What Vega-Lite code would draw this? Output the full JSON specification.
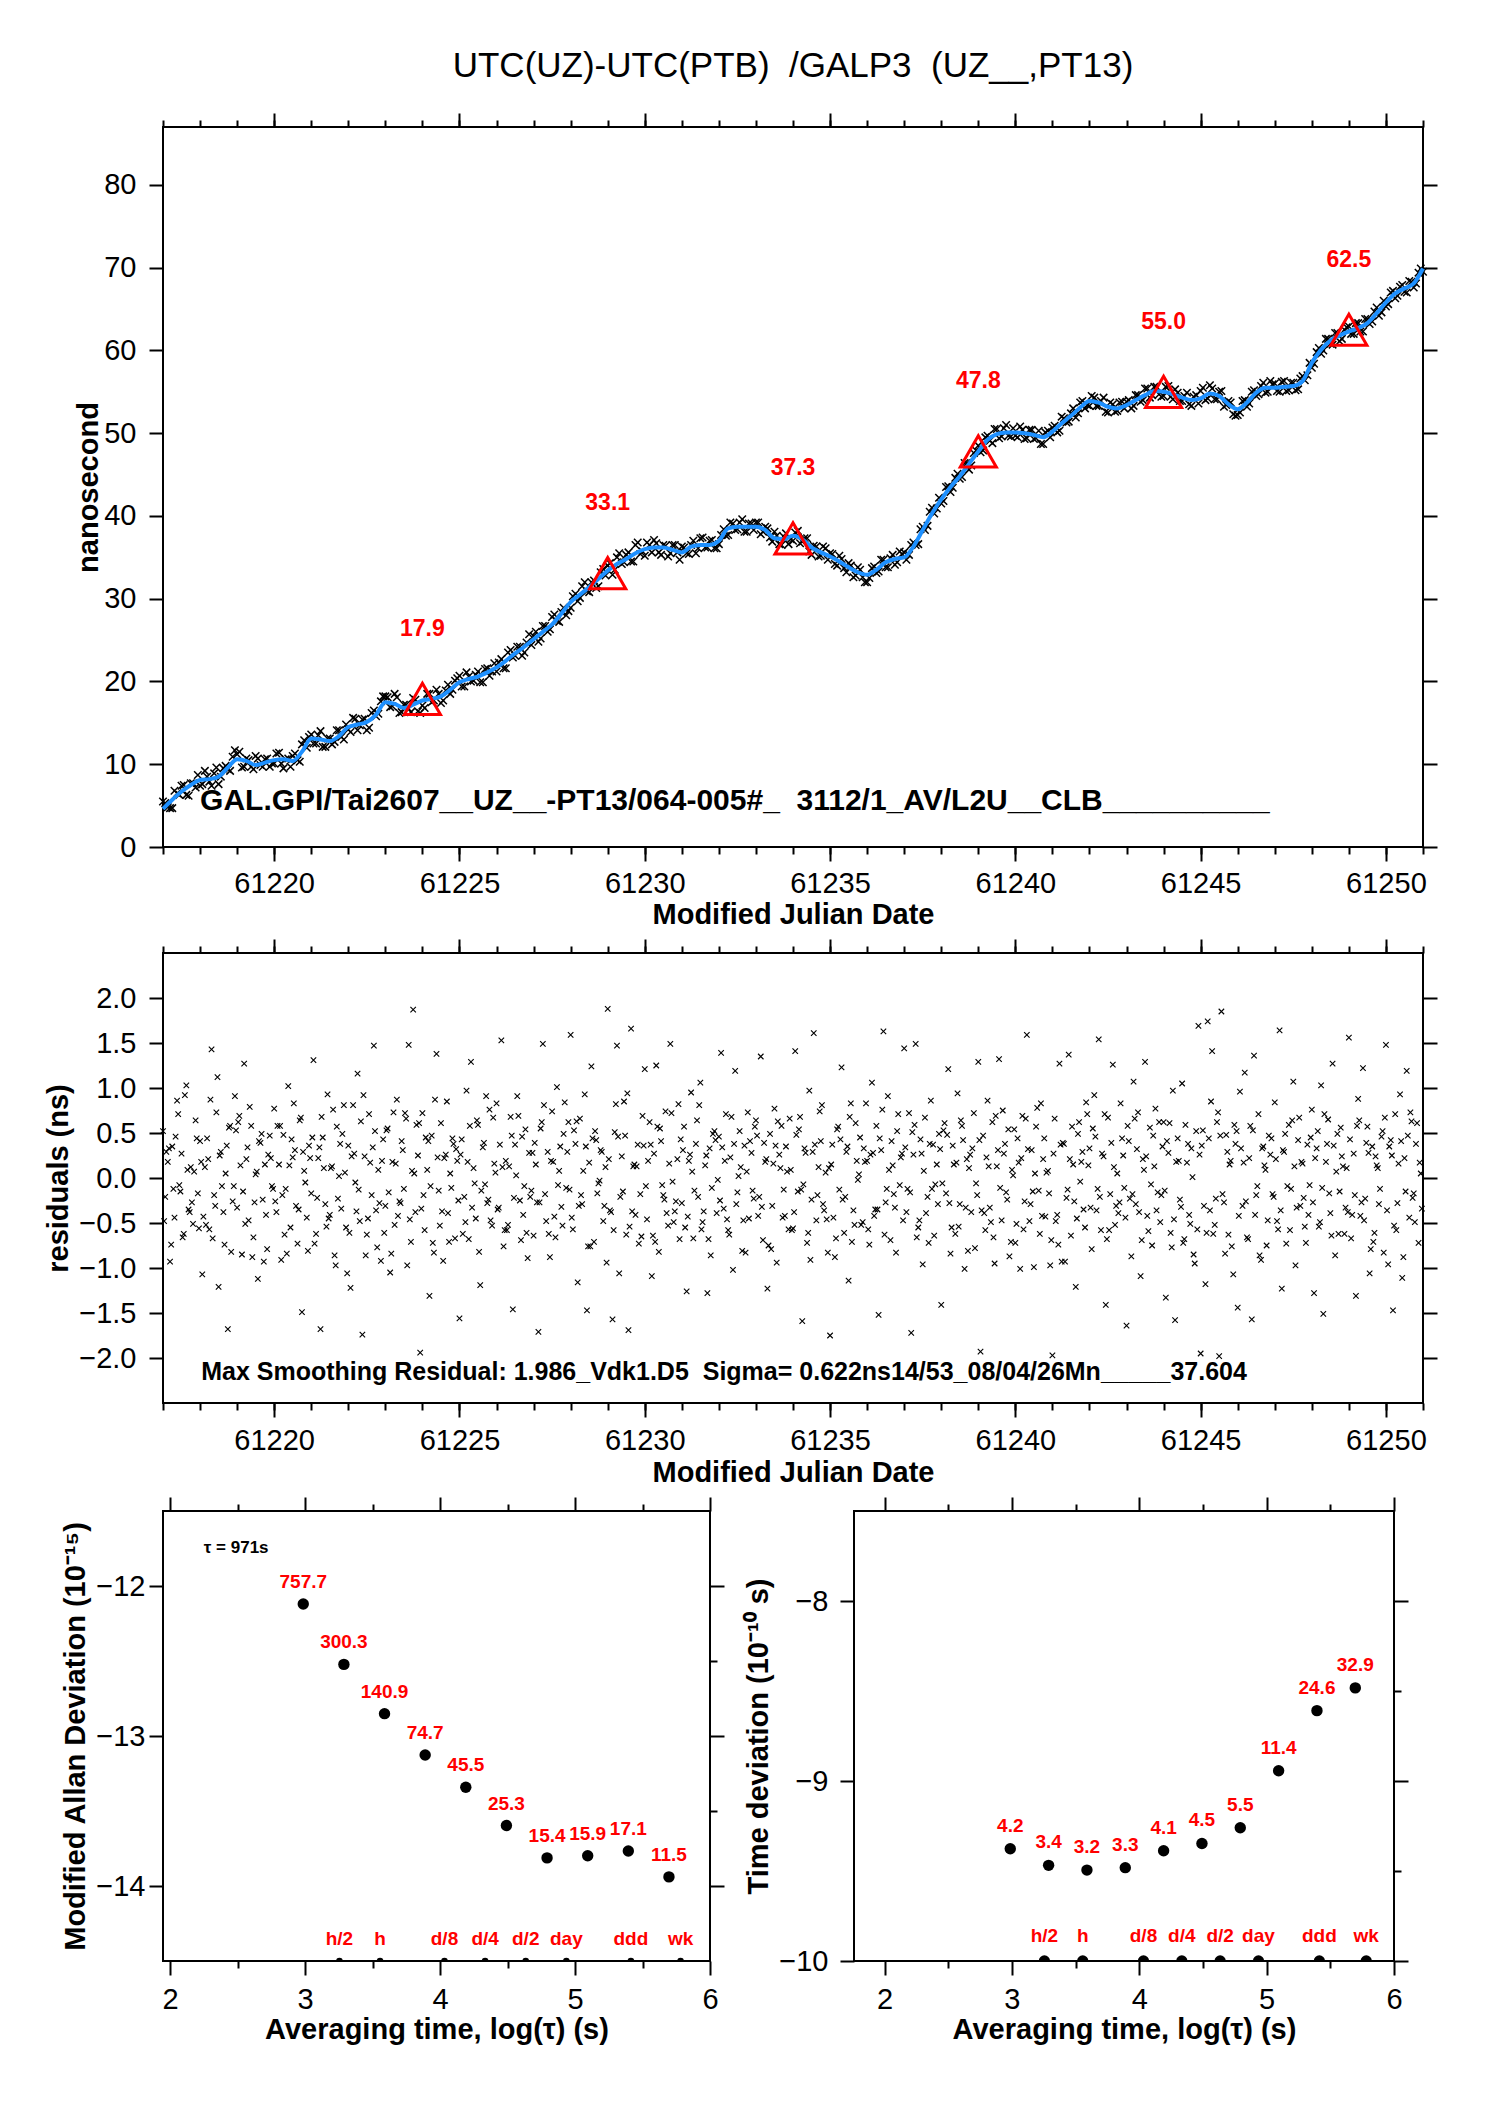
{
  "$schema": "https://vega.github.io/schema/vega-lite/v6.json",
  "description": "UTC(UZ)-UTC(PTB) GALP3 comparison: raw data with smoothing, residuals, MDEV and TDEV",
  "background": "white",
  "padding": {"left": 32, "top": 48, "right": 10, "bottom": 10},
  "spacing": 7,
  "config": {
    "font": "Liberation Sans",
    "view": {"stroke": "black", "strokeWidth": 2},
    "axis": {
      "grid": false, "domain": false,
      "tickColor": "black", "tickWidth": 2,
      "labelFont": "Liberation Sans", "labelFontSize": 29, "labelColor": "black",
      "labelFlush": false, "labelOverlap": false,
      "titleFont": "Liberation Sans", "titleFontSize": 29, "titleFontWeight": "bold", "titleColor": "black"
    },
    "text": {"font": "Liberation Sans"}
  },
  "datasets": {
    "curve": [
      {"t":61217,"v":4.6},{"t":61217.25,"v":5.7},{"t":61217.5,"v":6.7},{"t":61217.75,"v":7.5},
      {"t":61218,"v":8.1},{"t":61218.25,"v":8.2},{"t":61218.5,"v":8.5},{"t":61218.75,"v":9.6},
      {"t":61219,"v":10.6},{"t":61219.25,"v":10.4},{"t":61219.5,"v":9.9},{"t":61219.75,"v":10.2},
      {"t":61220,"v":10.5},{"t":61220.25,"v":10.6},{"t":61220.5,"v":10.4},{"t":61220.75,"v":11.5},
      {"t":61221,"v":13.1},{"t":61221.25,"v":13.0},{"t":61221.5,"v":12.8},{"t":61221.75,"v":13.4},
      {"t":61222,"v":14.5},{"t":61222.25,"v":14.8},{"t":61222.5,"v":15.1},{"t":61222.75,"v":16.0},
      {"t":61223,"v":17.5},{"t":61223.25,"v":17.3},{"t":61223.5,"v":16.8},{"t":61223.75,"v":17.2},
      {"t":61224,"v":17.7},{"t":61224.25,"v":17.9},{"t":61224.5,"v":18.2},{"t":61224.75,"v":19.0},
      {"t":61225,"v":19.9},{"t":61225.25,"v":20.3},{"t":61225.5,"v":20.6},{"t":61225.75,"v":21.1},
      {"t":61226,"v":21.7},{"t":61226.25,"v":22.5},{"t":61226.5,"v":23.4},{"t":61226.75,"v":24.2},
      {"t":61227,"v":25.1},{"t":61227.25,"v":26.0},{"t":61227.5,"v":26.9},{"t":61227.75,"v":28.2},
      {"t":61228,"v":29.6},{"t":61228.25,"v":30.5},{"t":61228.5,"v":31.4},{"t":61228.75,"v":32.4},
      {"t":61229,"v":33.4},{"t":61229.25,"v":34.2},{"t":61229.5,"v":34.8},{"t":61229.75,"v":35.5},
      {"t":61230,"v":36.0},{"t":61230.25,"v":36.2},{"t":61230.5,"v":36.2},{"t":61230.75,"v":35.9},
      {"t":61231,"v":35.6},{"t":61231.25,"v":36.3},{"t":61231.5,"v":36.5},{"t":61231.75,"v":36.5},
      {"t":61232,"v":37.0},{"t":61232.25,"v":38.5},{"t":61232.5,"v":38.7},{"t":61232.75,"v":38.7},
      {"t":61233,"v":38.7},{"t":61233.25,"v":38.3},{"t":61233.5,"v":37.3},{"t":61233.75,"v":37.2},
      {"t":61234,"v":37.6},{"t":61234.25,"v":37.2},{"t":61234.5,"v":36.2},{"t":61234.75,"v":35.6},
      {"t":61235,"v":35.1},{"t":61235.25,"v":34.5},{"t":61235.5,"v":33.8},{"t":61235.75,"v":33.2},
      {"t":61236,"v":32.9},{"t":61236.25,"v":33.5},{"t":61236.5,"v":34.4},{"t":61236.75,"v":34.8},
      {"t":61237,"v":35.0},{"t":61237.25,"v":36.3},{"t":61237.5,"v":38.3},{"t":61237.75,"v":40.3},
      {"t":61238,"v":42.0},{"t":61238.25,"v":43.5},{"t":61238.5,"v":44.8},{"t":61238.75,"v":46.3},
      {"t":61239,"v":47.8},{"t":61239.25,"v":49.2},{"t":61239.5,"v":49.9},{"t":61239.75,"v":50.1},
      {"t":61240,"v":50.1},{"t":61240.25,"v":50.0},{"t":61240.5,"v":49.8},{"t":61240.75,"v":49.5},
      {"t":61241,"v":50.2},{"t":61241.25,"v":51.2},{"t":61241.5,"v":52.1},{"t":61241.75,"v":53.1},
      {"t":61242,"v":53.9},{"t":61242.25,"v":53.7},{"t":61242.5,"v":53.2},{"t":61242.75,"v":53.0},
      {"t":61243,"v":53.4},{"t":61243.25,"v":54.0},{"t":61243.5,"v":54.6},{"t":61243.75,"v":55.1},
      {"t":61244,"v":55.0},{"t":61244.25,"v":54.7},{"t":61244.5,"v":54.3},{"t":61244.75,"v":54.0},
      {"t":61245,"v":54.2},{"t":61245.25,"v":54.8},{"t":61245.5,"v":54.5},{"t":61245.75,"v":53.5},
      {"t":61246,"v":52.9},{"t":61246.25,"v":53.7},{"t":61246.5,"v":54.9},{"t":61246.75,"v":55.5},
      {"t":61247,"v":55.5},{"t":61247.25,"v":55.6},{"t":61247.5,"v":55.7},{"t":61247.75,"v":56.3},
      {"t":61248,"v":58.5},{"t":61248.25,"v":60.1},{"t":61248.5,"v":61.2},{"t":61248.75,"v":61.8},
      {"t":61249,"v":62.3},{"t":61249.25,"v":62.7},{"t":61249.5,"v":63.3},{"t":61249.75,"v":64.5},
      {"t":61250,"v":65.8},{"t":61250.25,"v":66.9},{"t":61250.5,"v":67.5},{"t":61250.75,"v":68.1},
      {"t":61251,"v":69.9}
    ],
    "raw": [
      {"t":61217.06,"v":5.3},{"t":61217.19,"v":4.7},{"t":61217.31,"v":6.8},{"t":61217.44,"v":6.3},{"t":61217.56,"v":7.5},{"t":61217.69,"v":6.2},{"t":61217.81,"v":7.7},{"t":61217.94,"v":8.7},
      {"t":61218.06,"v":7.6},{"t":61218.19,"v":8.5},{"t":61218.31,"v":7.4},{"t":61218.44,"v":9.6},{"t":61218.56,"v":8.5},{"t":61218.69,"v":9.8},{"t":61218.81,"v":9.2},{"t":61218.94,"v":11.7},
      {"t":61219.06,"v":11.5},{"t":61219.19,"v":9.7},{"t":61219.31,"v":10.5},{"t":61219.44,"v":9.4},{"t":61219.56,"v":10.7},{"t":61219.69,"v":9.7},{"t":61219.81,"v":10.7},{"t":61219.94,"v":10.1},
      {"t":61220.06,"v":11.3},{"t":61220.19,"v":10.1},{"t":61220.31,"v":10.6},{"t":61220.44,"v":9.7},{"t":61220.56,"v":11.3},{"t":61220.69,"v":10.3},{"t":61220.81,"v":12.9},{"t":61220.94,"v":13.3},
      {"t":61221.06,"v":12.5},{"t":61221.19,"v":13.5},{"t":61221.31,"v":12.1},{"t":61221.44,"v":13.1},{"t":61221.56,"v":12.4},{"t":61221.69,"v":14.1},{"t":61221.81,"v":13.3},{"t":61221.94,"v":14.8},
      {"t":61222.06,"v":13.9},{"t":61222.19,"v":15.5},{"t":61222.31,"v":14.7},{"t":61222.44,"v":15.5},{"t":61222.56,"v":14.4},{"t":61222.69,"v":16.5},{"t":61222.81,"v":16.1},{"t":61222.94,"v":18.2},
      {"t":61223.06,"v":18.1},{"t":61223.19,"v":17.0},{"t":61223.31,"v":18.1},{"t":61223.44,"v":16.3},{"t":61223.56,"v":17.2},{"t":61223.69,"v":16.3},{"t":61223.81,"v":17.8},{"t":61223.94,"v":16.2},
      {"t":61224.06,"v":16.8},{"t":61224.19,"v":18.5},{"t":61224.31,"v":17.7},{"t":61224.44,"v":18.5},{"t":61224.56,"v":17.7},{"t":61224.69,"v":19.6},{"t":61224.81,"v":19.0},{"t":61224.94,"v":20.4},
      {"t":61225.06,"v":19.4},{"t":61225.19,"v":21.1},{"t":61225.31,"v":20.0},{"t":61225.44,"v":20.8},{"t":61225.56,"v":19.9},{"t":61225.69,"v":21.5},{"t":61225.81,"v":20.7},{"t":61225.94,"v":22.2},
      {"t":61226.06,"v":22.3},{"t":61226.19,"v":21.6},{"t":61226.31,"v":23.5},{"t":61226.44,"v":22.9},{"t":61226.56,"v":24.2},{"t":61226.69,"v":23.1},{"t":61226.81,"v":24.7},{"t":61226.94,"v":24.4},
      {"t":61227.06,"v":26.0},{"t":61227.19,"v":25.2},{"t":61227.31,"v":26.7},{"t":61227.44,"v":26.3},{"t":61227.56,"v":28.1},{"t":61227.69,"v":27.2},{"t":61227.81,"v":28.9},{"t":61227.94,"v":28.5},
      {"t":61228.06,"v":30.3},{"t":61228.19,"v":29.7},{"t":61228.31,"v":31.5},{"t":61228.44,"v":30.9},{"t":61228.56,"v":32.0},{"t":61228.69,"v":31.3},{"t":61228.81,"v":33.2},{"t":61228.94,"v":32.8},
      {"t":61229.06,"v":34.3},{"t":61229.19,"v":33.5},{"t":61229.31,"v":35.5},{"t":61229.44,"v":34.4},{"t":61229.56,"v":35.6},{"t":61229.69,"v":34.5},{"t":61229.81,"v":36.8},{"t":61229.94,"v":35.7},
      {"t":61230.06,"v":36.8},{"t":61230.19,"v":35.6},{"t":61230.31,"v":36.7},{"t":61230.44,"v":35.3},{"t":61230.56,"v":36.4},{"t":61230.69,"v":35.5},{"t":61230.81,"v":36.5},{"t":61230.94,"v":34.7},
      {"t":61231.06,"v":36.2},{"t":61231.19,"v":35.4},{"t":61231.31,"v":37.0},{"t":61231.44,"v":36.1},{"t":61231.56,"v":37.4},{"t":61231.69,"v":36.2},{"t":61231.81,"v":37.1},{"t":61231.94,"v":36.1},
      {"t":61232.06,"v":37.7},{"t":61232.19,"v":37.6},{"t":61232.31,"v":39.2},{"t":61232.44,"v":38.3},{"t":61232.56,"v":39.2},{"t":61232.69,"v":38.1},{"t":61232.81,"v":39.1},{"t":61232.94,"v":38.3},
      {"t":61233.06,"v":39.2},{"t":61233.19,"v":38.1},{"t":61233.31,"v":38.5},{"t":61233.44,"v":36.9},{"t":61233.56,"v":37.6},{"t":61233.69,"v":36.5},{"t":61233.81,"v":37.9},{"t":61233.94,"v":37.2},
      {"t":61234.06,"v":38.0},{"t":61234.19,"v":36.7},{"t":61234.31,"v":37.3},{"t":61234.44,"v":35.7},{"t":61234.56,"v":36.4},{"t":61234.69,"v":35.1},{"t":61234.81,"v":36.3},{"t":61234.94,"v":34.7},
      {"t":61235.06,"v":35.4},{"t":61235.19,"v":34.0},{"t":61235.31,"v":34.8},{"t":61235.44,"v":33.2},{"t":61235.56,"v":34.0},{"t":61235.69,"v":32.8},{"t":61235.81,"v":33.5},{"t":61235.94,"v":32.0},
      {"t":61236.06,"v":32.5},{"t":61236.19,"v":33.9},{"t":61236.31,"v":33.3},{"t":61236.44,"v":34.7},{"t":61236.56,"v":33.8},{"t":61236.69,"v":35.3},{"t":61236.81,"v":34.4},{"t":61236.94,"v":35.4},
      {"t":61237.06,"v":34.7},{"t":61237.19,"v":36.5},{"t":61237.31,"v":36.5},{"t":61237.44,"v":38.4},{"t":61237.56,"v":38.3},{"t":61237.69,"v":40.5},{"t":61237.81,"v":40.3},{"t":61237.94,"v":42.2},
      {"t":61238.06,"v":41.8},{"t":61238.19,"v":43.6},{"t":61238.31,"v":43.4},{"t":61238.44,"v":45.1},{"t":61238.56,"v":44.7},{"t":61238.69,"v":46.4},{"t":61238.81,"v":46.1},{"t":61238.94,"v":47.9},
      {"t":61239.06,"v":47.7},{"t":61239.19,"v":49.5},{"t":61239.31,"v":49.1},{"t":61239.44,"v":50.5},{"t":61239.56,"v":49.4},{"t":61239.69,"v":50.6},{"t":61239.81,"v":49.7},{"t":61239.94,"v":50.6},
      {"t":61240.06,"v":49.5},{"t":61240.19,"v":50.4},{"t":61240.31,"v":49.4},{"t":61240.44,"v":50.4},{"t":61240.56,"v":49.4},{"t":61240.69,"v":48.7},{"t":61240.81,"v":50.1},{"t":61240.94,"v":49.5},
      {"t":61241.06,"v":50.9},{"t":61241.19,"v":50.3},{"t":61241.31,"v":51.8},{"t":61241.44,"v":51.4},{"t":61241.56,"v":53.0},{"t":61241.69,"v":52.4},{"t":61241.81,"v":53.9},{"t":61241.94,"v":53.4},
      {"t":61242.06,"v":54.5},{"t":61242.19,"v":53.3},{"t":61242.31,"v":53.9},{"t":61242.44,"v":52.6},{"t":61242.56,"v":53.7},{"t":61242.69,"v":52.6},{"t":61242.81,"v":53.7},{"t":61242.94,"v":53.0},
      {"t":61243.06,"v":54.0},{"t":61243.19,"v":53.3},{"t":61243.31,"v":54.6},{"t":61243.44,"v":54.0},{"t":61243.56,"v":55.4},{"t":61243.69,"v":54.6},{"t":61243.81,"v":55.6},{"t":61243.94,"v":54.4},
      {"t":61244.06,"v":55.6},{"t":61244.19,"v":54.4},{"t":61244.31,"v":55.3},{"t":61244.44,"v":53.9},{"t":61244.56,"v":54.5},{"t":61244.69,"v":53.5},{"t":61244.81,"v":54.4},{"t":61244.94,"v":53.6},
      {"t":61245.06,"v":55.5},{"t":61245.19,"v":54.2},{"t":61245.31,"v":55.4},{"t":61245.44,"v":54.1},{"t":61245.56,"v":55.1},{"t":61245.69,"v":53.4},{"t":61245.81,"v":53.7},{"t":61245.94,"v":52.1},
      {"t":61246.06,"v":52.5},{"t":61246.19,"v":54.0},{"t":61246.31,"v":53.6},{"t":61246.44,"v":55.2},{"t":61246.56,"v":54.7},{"t":61246.69,"v":56.1},{"t":61246.81,"v":55.0},{"t":61246.94,"v":55.9},
      {"t":61247.06,"v":55.1},{"t":61247.19,"v":56.2},{"t":61247.31,"v":55.1},{"t":61247.44,"v":56.1},{"t":61247.56,"v":55.2},{"t":61247.69,"v":56.6},{"t":61247.81,"v":56.4},{"t":61247.94,"v":58.5},
      {"t":61248.06,"v":58.4},{"t":61248.19,"v":60.3},{"t":61248.31,"v":60.0},{"t":61248.44,"v":61.4},{"t":61248.56,"v":60.7},{"t":61248.69,"v":62.1},{"t":61248.81,"v":61.4},{"t":61248.94,"v":62.8},
      {"t":61249.06,"v":62.0},{"t":61249.19,"v":63.3},{"t":61249.31,"v":62.3},{"t":61249.44,"v":63.8},{"t":61249.56,"v":63.2},{"t":61249.69,"v":64.7},{"t":61249.81,"v":64.2},{"t":61249.94,"v":66.0},
      {"t":61250.06,"v":65.6},{"t":61250.19,"v":67.2},{"t":61250.31,"v":66.6},{"t":61250.44,"v":67.9},{"t":61250.56,"v":67.0},{"t":61250.69,"v":68.3},{"t":61250.81,"v":68.1},{"t":61250.94,"v":69.9},
      {"t":61217,"v":5.5},{"t":61217.13,"v":4.8},{"t":61217.25,"v":4.7},{"t":61217.38,"v":6.5},{"t":61217.5,"v":7.4},{"t":61217.63,"v":6.3},{"t":61217.75,"v":7.7},{"t":61217.88,"v":7.2},
      {"t":61218,"v":7.4},{"t":61218.13,"v":9.2},{"t":61218.25,"v":7.9},{"t":61218.38,"v":8.9},{"t":61218.5,"v":7.6},{"t":61218.63,"v":9.5},{"t":61218.75,"v":9.4},{"t":61218.88,"v":10.9},
      {"t":61219,"v":11.2},{"t":61219.13,"v":9.6},{"t":61219.25,"v":10.7},{"t":61219.38,"v":9.7},{"t":61219.5,"v":11.0},{"t":61219.63,"v":9.9},{"t":61219.75,"v":10.6},{"t":61219.88,"v":9.7},
      {"t":61220,"v":10.1},{"t":61220.13,"v":11.4},{"t":61220.25,"v":9.5},{"t":61220.38,"v":10.7},{"t":61220.5,"v":11.0},{"t":61220.63,"v":10.5},{"t":61220.75,"v":12.4},{"t":61220.88,"v":12.0},
      {"t":61221,"v":13.6},{"t":61221.13,"v":12.5},{"t":61221.25,"v":14.0},{"t":61221.38,"v":12.1},{"t":61221.5,"v":13.1},{"t":61221.63,"v":12.7},{"t":61221.75,"v":14.1},{"t":61221.88,"v":13.0},
      {"t":61222,"v":14.2},{"t":61222.13,"v":15.6},{"t":61222.25,"v":14.1},{"t":61222.38,"v":15.4},{"t":61222.5,"v":14.1},{"t":61222.63,"v":16.2},{"t":61222.75,"v":15.8},{"t":61222.88,"v":17.6},
      {"t":61223,"v":18.2},{"t":61223.13,"v":16.9},{"t":61223.25,"v":18.5},{"t":61223.38,"v":16.2},{"t":61223.5,"v":17.2},{"t":61223.63,"v":16.7},{"t":61223.75,"v":18.0},{"t":61223.88,"v":16.4},
      {"t":61224,"v":17.1},{"t":61224.13,"v":18.5},{"t":61224.25,"v":17.5},{"t":61224.38,"v":19.0},{"t":61224.5,"v":17.4},{"t":61224.63,"v":18.9},{"t":61224.75,"v":18.5},{"t":61224.88,"v":20.1},
      {"t":61225,"v":20.7},{"t":61225.13,"v":19.4},{"t":61225.25,"v":20.6},{"t":61225.38,"v":20.1},{"t":61225.5,"v":21.2},{"t":61225.63,"v":19.9},{"t":61225.75,"v":21.6},{"t":61225.88,"v":21.2},
      {"t":61226,"v":21.2},{"t":61226.13,"v":22.7},{"t":61226.25,"v":21.6},{"t":61226.38,"v":23.8},{"t":61226.5,"v":23.1},{"t":61226.63,"v":24.2},{"t":61226.75,"v":23.5},{"t":61226.88,"v":25.7},
      {"t":61227,"v":25.5},{"t":61227.13,"v":24.8},{"t":61227.25,"v":26.7},{"t":61227.38,"v":26.0},{"t":61227.5,"v":27.8},{"t":61227.63,"v":27.3},{"t":61227.75,"v":28.4},{"t":61227.88,"v":28.0},
      {"t":61228,"v":28.9},{"t":61228.13,"v":30.6},{"t":61228.25,"v":30.1},{"t":61228.38,"v":32.0},{"t":61228.5,"v":30.8},{"t":61228.63,"v":32.2},{"t":61228.75,"v":31.5},{"t":61228.88,"v":33.6},
      {"t":61229,"v":34.0},{"t":61229.13,"v":32.9},{"t":61229.25,"v":35.0},{"t":61229.38,"v":34.2},{"t":61229.5,"v":35.3},{"t":61229.63,"v":34.5},{"t":61229.75,"v":36.5},{"t":61229.88,"v":35.4},
      {"t":61230,"v":35.2},{"t":61230.13,"v":36.5},{"t":61230.25,"v":37.1},{"t":61230.38,"v":35.6},{"t":61230.5,"v":36.5},{"t":61230.63,"v":35.1},{"t":61230.75,"v":36.5},{"t":61230.88,"v":35.6},
      {"t":61231,"v":36.3},{"t":61231.13,"v":35.5},{"t":61231.25,"v":36.5},{"t":61231.38,"v":35.5},{"t":61231.5,"v":37.3},{"t":61231.63,"v":36.2},{"t":61231.75,"v":37.0},{"t":61231.88,"v":36.1},
      {"t":61232,"v":36.6},{"t":61232.13,"v":38.4},{"t":61232.25,"v":37.7},{"t":61232.38,"v":39.1},{"t":61232.5,"v":38.4},{"t":61232.63,"v":39.6},{"t":61232.75,"v":38.1},{"t":61232.88,"v":39.1},
      {"t":61233,"v":39.2},{"t":61233.13,"v":37.8},{"t":61233.25,"v":38.7},{"t":61233.38,"v":37.4},{"t":61233.5,"v":38.1},{"t":61233.63,"v":36.6},{"t":61233.75,"v":37.5},{"t":61233.88,"v":36.6},
      {"t":61234,"v":37.0},{"t":61234.13,"v":38.2},{"t":61234.25,"v":36.9},{"t":61234.38,"v":37.3},{"t":61234.5,"v":35.3},{"t":61234.63,"v":36.3},{"t":61234.75,"v":35.2},{"t":61234.88,"v":36.1},
      {"t":61235,"v":35.5},{"t":61235.13,"v":34.2},{"t":61235.25,"v":35.2},{"t":61235.38,"v":33.7},{"t":61235.5,"v":34.3},{"t":61235.63,"v":32.6},{"t":61235.75,"v":33.8},{"t":61235.88,"v":32.6},
      {"t":61236,"v":32.0},{"t":61236.13,"v":33.7},{"t":61236.25,"v":33.1},{"t":61236.38,"v":34.7},{"t":61236.5,"v":33.8},{"t":61236.63,"v":34.9},{"t":61236.75,"v":34.1},{"t":61236.88,"v":35.7},
      {"t":61237,"v":35.6},{"t":61237.13,"v":35.3},{"t":61237.25,"v":36.8},{"t":61237.38,"v":36.6},{"t":61237.5,"v":38.7},{"t":61237.63,"v":38.8},{"t":61237.75,"v":41.0},{"t":61237.88,"v":40.9},
      {"t":61238,"v":41.5},{"t":61238.13,"v":43.5},{"t":61238.25,"v":42.9},{"t":61238.38,"v":44.6},{"t":61238.5,"v":44.5},{"t":61238.63,"v":46.4},{"t":61238.75,"v":45.6},{"t":61238.88,"v":47.6},
      {"t":61239,"v":48.5},{"t":61239.13,"v":47.9},{"t":61239.25,"v":49.7},{"t":61239.38,"v":48.8},{"t":61239.5,"v":50.5},{"t":61239.63,"v":49.6},{"t":61239.75,"v":51.0},{"t":61239.88,"v":49.6},
      {"t":61240,"v":49.7},{"t":61240.13,"v":50.8},{"t":61240.25,"v":49.3},{"t":61240.38,"v":50.4},{"t":61240.5,"v":49.3},{"t":61240.63,"v":50.3},{"t":61240.75,"v":48.7},{"t":61240.88,"v":50.3},
      {"t":61241,"v":50.7},{"t":61241.13,"v":50.1},{"t":61241.25,"v":52.0},{"t":61241.38,"v":51.3},{"t":61241.5,"v":52.4},{"t":61241.63,"v":51.9},{"t":61241.75,"v":53.7},{"t":61241.88,"v":53.0},
      {"t":61242,"v":53.3},{"t":61242.13,"v":54.3},{"t":61242.25,"v":53.3},{"t":61242.38,"v":54.3},{"t":61242.5,"v":52.5},{"t":61242.63,"v":53.5},{"t":61242.75,"v":52.7},{"t":61242.88,"v":53.8},
      {"t":61243,"v":53.8},{"t":61243.13,"v":53.0},{"t":61243.25,"v":54.6},{"t":61243.38,"v":53.8},{"t":61243.5,"v":55.4},{"t":61243.63,"v":54.3},{"t":61243.75,"v":55.6},{"t":61243.88,"v":54.7},
      {"t":61244,"v":54.5},{"t":61244.13,"v":55.7},{"t":61244.25,"v":54.1},{"t":61244.38,"v":54.9},{"t":61244.5,"v":53.9},{"t":61244.63,"v":54.9},{"t":61244.75,"v":53.3},{"t":61244.88,"v":54.6},
      {"t":61245,"v":55.1},{"t":61245.13,"v":54.0},{"t":61245.25,"v":55.8},{"t":61245.38,"v":54.1},{"t":61245.5,"v":55.0},{"t":61245.63,"v":53.2},{"t":61245.75,"v":53.9},{"t":61245.88,"v":52.3},
      {"t":61246,"v":52.2},{"t":61246.13,"v":53.9},{"t":61246.25,"v":53.2},{"t":61246.38,"v":55.0},{"t":61246.5,"v":54.5},{"t":61246.63,"v":55.7},{"t":61246.75,"v":54.9},{"t":61246.88,"v":56.3},
      {"t":61247,"v":56.0},{"t":61247.13,"v":55.0},{"t":61247.25,"v":56.3},{"t":61247.38,"v":55.2},{"t":61247.5,"v":56.1},{"t":61247.63,"v":55.3},{"t":61247.75,"v":56.9},{"t":61247.88,"v":57.0},
      {"t":61248,"v":57.9},{"t":61248.13,"v":59.8},{"t":61248.25,"v":59.6},{"t":61248.38,"v":61.4},{"t":61248.5,"v":60.8},{"t":61248.63,"v":62.1},{"t":61248.75,"v":61.1},{"t":61248.88,"v":62.5},
      {"t":61249,"v":62.9},{"t":61249.13,"v":62.0},{"t":61249.25,"v":63.3},{"t":61249.38,"v":62.3},{"t":61249.5,"v":63.8},{"t":61249.63,"v":63.5},{"t":61249.75,"v":65.2},{"t":61249.88,"v":64.6},
      {"t":61250,"v":65.3},{"t":61250.13,"v":67.0},{"t":61250.25,"v":66.3},{"t":61250.38,"v":67.7},{"t":61250.5,"v":67.1},{"t":61250.63,"v":68.4},{"t":61250.75,"v":67.6},{"t":61250.88,"v":69.4},
      {"t":61251,"v":69.5}
    ],
    "tri": [
      {"t":61224,"v":17.9},{"t":61229,"v":33.1},{"t":61234,"v":37.3},
      {"t":61239,"v":47.8},{"t":61244,"v":55.0},{"t":61249,"v":62.5}
    ],
    "resid": [
      {"t":61217,"r":0.52},{"t":61217.06,"r":-0.21},{"t":61217.13,"r":0.18},{"t":61217.19,"r":-0.93},{"t":61217.25,"r":0.35},{"t":61217.31,"r":-0.44},{"t":61217.38,"r":0.86},{"t":61217.44,"r":-0.08},{"t":61217.5,"r":0.27},{"t":61217.56,"r":-0.62},{"t":61217.63,"r":1.03},{"t":61217.69,"r":-0.35},{"t":61217.75,"r":0.12},{"t":61217.81,"r":-0.51},{"t":61217.88,"r":0.64},{"t":61217.94,"r":-0.17},
      {"t":61218,"r":0.41},{"t":61218.06,"r":-1.07},{"t":61218.13,"r":0.12},{"t":61218.19,"r":0.44},{"t":61218.25,"r":-0.57},{"t":61218.31,"r":1.43},{"t":61218.38,"r":-0.19},{"t":61218.44,"r":0.73},{"t":61218.5,"r":-1.21},{"t":61218.56,"r":0.29},{"t":61218.63,"r":-0.38},{"t":61218.69,"r":0.05},{"t":61218.75,"r":-1.68},{"t":61218.81,"r":0.58},{"t":61218.88,"r":-0.26},{"t":61218.94,"r":0.91},
      {"t":61219,"r":-0.33},{"t":61219.06,"r":0.69},{"t":61219.13,"r":-0.85},{"t":61219.19,"r":1.27},{"t":61219.25,"r":0.21},{"t":61219.31,"r":-0.47},{"t":61219.38,"r":0.58},{"t":61219.44,"r":-0.66},{"t":61219.5,"r":0.04},{"t":61219.56,"r":-1.12},{"t":61219.63,"r":0.39},{"t":61219.69,"r":-0.24},{"t":61219.75,"r":0.15},{"t":61219.81,"r":-0.79},{"t":61219.88,"r":0.47},{"t":61219.94,"r":-0.09},
      {"t":61220,"r":0.77},{"t":61220.06,"r":-0.38},{"t":61220.13,"r":0.15},{"t":61220.19,"r":-0.91},{"t":61220.25,"r":0.48},{"t":61220.31,"r":-0.12},{"t":61220.38,"r":1.02},{"t":61220.44,"r":-0.55},{"t":61220.5,"r":0.23},{"t":61220.56,"r":0.31},{"t":61220.63,"r":-0.73},{"t":61220.69,"r":0.64},{"t":61220.75,"r":-1.49},{"t":61220.81,"r":0.08},{"t":61220.88,"r":-0.44},{"t":61220.94,"r":0.36},
      {"t":61221,"r":-0.17},{"t":61221.06,"r":1.31},{"t":61221.13,"r":-0.62},{"t":61221.19,"r":0.22},{"t":61221.25,"r":-1.68},{"t":61221.31,"r":0.45},{"t":61221.38,"r":-0.29},{"t":61221.44,"r":0.93},{"t":61221.5,"r":-0.41},{"t":61221.56,"r":0.13},{"t":61221.63,"r":-0.86},{"t":61221.69,"r":0.57},{"t":61221.75,"r":0.02},{"t":61221.81,"r":-0.34},{"t":61221.88,"r":0.81},{"t":61221.94,"r":-0.55},
      {"t":61222,"r":0.36},{"t":61222.06,"r":-1.22},{"t":61222.13,"r":0.81},{"t":61222.19,"r":-0.05},{"t":61222.25,"r":1.16},{"t":61222.31,"r":-0.48},{"t":61222.38,"r":-1.74},{"t":61222.44,"r":0.24},{"t":61222.5,"r":-0.63},{"t":61222.56,"r":0.71},{"t":61222.63,"r":-0.19},{"t":61222.69,"r":1.47},{"t":61222.75,"r":-0.36},{"t":61222.81,"r":0.09},{"t":61222.88,"r":-0.92},{"t":61222.94,"r":0.43},
      {"t":61223,"r":-0.31},{"t":61223.06,"r":0.55},{"t":61223.13,"r":-1.05},{"t":61223.19,"r":0.18},{"t":61223.25,"r":-0.52},{"t":61223.31,"r":0.87},{"t":61223.38,"r":-0.26},{"t":61223.44,"r":0.41},{"t":61223.5,"r":-0.12},{"t":61223.56,"r":0.66},{"t":61223.63,"r":1.48},{"t":61223.69,"r":-0.71},{"t":61223.75,"r":1.87},{"t":61223.81,"r":-0.38},{"t":61223.88,"r":0.25},{"t":61223.94,"r":-1.94},
      {"t":61224,"r":0.72},{"t":61224.06,"r":-0.58},{"t":61224.13,"r":0.09},{"t":61224.19,"r":-1.31},{"t":61224.25,"r":0.47},{"t":61224.31,"r":-0.83},{"t":61224.38,"r":1.38},{"t":61224.44,"r":-0.14},{"t":61224.5,"r":0.61},{"t":61224.56,"r":-0.92},{"t":61224.63,"r":0.26},{"t":61224.69,"r":-0.39},{"t":61224.75,"r":0.05},{"t":61224.81,"r":0.44},{"t":61224.88,"r":-0.67},{"t":61224.94,"r":0.19},
      {"t":61225,"r":-1.56},{"t":61225.06,"r":0.43},{"t":61225.13,"r":-0.21},{"t":61225.19,"r":0.97},{"t":61225.25,"r":-0.68},{"t":61225.31,"r":1.29},{"t":61225.38,"r":0.11},{"t":61225.44,"r":-0.45},{"t":61225.5,"r":0.59},{"t":61225.56,"r":-1.19},{"t":61225.63,"r":0.34},{"t":61225.69,"r":-0.07},{"t":61225.75,"r":-0.28},{"t":61225.81,"r":0.76},{"t":61225.88,"r":-0.53},{"t":61225.94,"r":0.16},
      {"t":61226,"r":0.83},{"t":61226.06,"r":-0.33},{"t":61226.13,"r":1.53},{"t":61226.19,"r":-0.76},{"t":61226.25,"r":0.19},{"t":61226.31,"r":-0.52},{"t":61226.38,"r":0.68},{"t":61226.44,"r":-1.46},{"t":61226.5,"r":0.37},{"t":61226.56,"r":0.91},{"t":61226.63,"r":-0.25},{"t":61226.69,"r":0.46},{"t":61226.75,"r":-0.09},{"t":61226.81,"r":-0.61},{"t":61226.88,"r":0.28},{"t":61226.94,"r":-0.14},
      {"t":61227,"r":-0.64},{"t":61227.06,"r":0.15},{"t":61227.13,"r":-1.71},{"t":61227.19,"r":0.55},{"t":61227.25,"r":1.49},{"t":61227.31,"r":-0.18},{"t":61227.38,"r":0.29},{"t":61227.44,"r":-0.88},{"t":61227.5,"r":0.74},{"t":61227.56,"r":-0.43},{"t":61227.63,"r":1.01},{"t":61227.69,"r":0.08},{"t":61227.75,"r":-0.32},{"t":61227.81,"r":0.49},{"t":61227.88,"r":-0.11},{"t":61227.94,"r":0.62},
      {"t":61228,"r":1.59},{"t":61228.06,"r":-0.57},{"t":61228.13,"r":0.38},{"t":61228.19,"r":-1.16},{"t":61228.25,"r":0.66},{"t":61228.31,"r":-0.29},{"t":61228.38,"r":0.93},{"t":61228.44,"r":-1.47},{"t":61228.5,"r":0.17},{"t":61228.56,"r":1.24},{"t":61228.63,"r":-0.71},{"t":61228.69,"r":0.42},{"t":61228.75,"r":-0.06},{"t":61228.81,"r":0.31},{"t":61228.88,"r":-0.48},{"t":61228.94,"r":0.12},
      {"t":61229,"r":1.88},{"t":61229.06,"r":-0.36},{"t":61229.13,"r":-1.57},{"t":61229.19,"r":0.51},{"t":61229.25,"r":1.47},{"t":61229.31,"r":-1.06},{"t":61229.38,"r":0.24},{"t":61229.44,"r":0.85},{"t":61229.5,"r":-0.63},{"t":61229.56,"r":-1.69},{"t":61229.63,"r":1.66},{"t":61229.69,"r":0.13},{"t":61229.75,"r":-0.41},{"t":61229.81,"r":0.37},{"t":61229.88,"r":-0.18},{"t":61229.94,"r":0.69},
      {"t":61230,"r":1.21},{"t":61230.06,"r":-0.46},{"t":61230.13,"r":0.62},{"t":61230.19,"r":-1.09},{"t":61230.25,"r":0.27},{"t":61230.31,"r":1.25},{"t":61230.38,"r":-0.82},{"t":61230.44,"r":0.41},{"t":61230.5,"r":-0.19},{"t":61230.56,"r":0.74},{"t":61230.63,"r":-0.53},{"t":61230.69,"r":1.49},{"t":61230.75,"r":-0.04},{"t":61230.81,"r":-0.37},{"t":61230.88,"r":0.21},{"t":61230.94,"r":-0.68},
      {"t":61231,"r":-0.28},{"t":61231.06,"r":0.57},{"t":61231.13,"r":-1.26},{"t":61231.19,"r":0.19},{"t":61231.25,"r":0.95},{"t":61231.31,"r":-0.67},{"t":61231.38,"r":0.38},{"t":61231.44,"r":-0.21},{"t":61231.5,"r":1.06},{"t":61231.56,"r":-0.49},{"t":61231.63,"r":0.14},{"t":61231.69,"r":-1.28},{"t":61231.75,"r":0.33},{"t":61231.81,"r":-0.11},{"t":61231.88,"r":0.52},{"t":61231.94,"r":-0.39},
      {"t":61232,"r":0.46},{"t":61232.06,"r":1.39},{"t":61232.13,"r":-0.34},{"t":61232.19,"r":0.71},{"t":61232.25,"r":-0.58},{"t":61232.31,"r":0.23},{"t":61232.38,"r":-1.02},{"t":61232.44,"r":1.19},{"t":61232.5,"r":-0.16},{"t":61232.56,"r":0.52},{"t":61232.63,"r":-0.81},{"t":61232.69,"r":0.36},{"t":61232.75,"r":0.07},{"t":61232.81,"r":-0.45},{"t":61232.88,"r":0.28},{"t":61232.94,"r":-0.23},
      {"t":61233,"r":0.64},{"t":61233.06,"r":-0.42},{"t":61233.13,"r":1.35},{"t":61233.19,"r":-0.69},{"t":61233.25,"r":0.18},{"t":61233.31,"r":-1.23},{"t":61233.38,"r":0.49},{"t":61233.44,"r":-0.31},{"t":61233.5,"r":0.77},{"t":61233.56,"r":-0.94},{"t":61233.63,"r":0.26},{"t":61233.69,"r":0.58},{"t":61233.75,"r":-0.13},{"t":61233.81,"r":0.35},{"t":61233.88,"r":-0.57},{"t":61233.94,"r":0.09},
      {"t":61234,"r":-0.56},{"t":61234.06,"r":1.41},{"t":61234.13,"r":-0.15},{"t":61234.19,"r":0.68},{"t":61234.25,"r":-1.59},{"t":61234.31,"r":0.33},{"t":61234.38,"r":-0.72},{"t":61234.44,"r":0.97},{"t":61234.5,"r":-0.24},{"t":61234.56,"r":1.61},{"t":61234.63,"r":-0.47},{"t":61234.69,"r":0.12},{"t":61234.75,"r":0.41},{"t":61234.81,"r":-0.29},{"t":61234.88,"r":0.06},{"t":61234.94,"r":-0.83},
      {"t":61235,"r":-1.75},{"t":61235.06,"r":0.37},{"t":61235.13,"r":-0.88},{"t":61235.19,"r":0.54},{"t":61235.25,"r":-0.13},{"t":61235.31,"r":1.23},{"t":61235.38,"r":-0.61},{"t":61235.44,"r":0.29},{"t":61235.5,"r":-1.14},{"t":61235.56,"r":0.83},{"t":61235.63,"r":-0.36},{"t":61235.69,"r":0.61},{"t":61235.75,"r":-0.02},{"t":61235.81,"r":0.45},{"t":61235.88,"r":-0.49},{"t":61235.94,"r":0.18},
      {"t":61236,"r":0.19},{"t":61236.06,"r":-0.74},{"t":61236.13,"r":1.06},{"t":61236.19,"r":-0.42},{"t":61236.25,"r":0.58},{"t":61236.31,"r":-1.52},{"t":61236.38,"r":0.31},{"t":61236.44,"r":1.63},{"t":61236.5,"r":-0.27},{"t":61236.56,"r":0.91},{"t":61236.63,"r":-0.69},{"t":61236.69,"r":0.14},{"t":61236.75,"r":-0.33},{"t":61236.81,"r":0.52},{"t":61236.88,"r":-0.08},{"t":61236.94,"r":0.27},
      {"t":61237,"r":1.44},{"t":61237.06,"r":-0.38},{"t":61237.13,"r":0.72},{"t":61237.19,"r":-1.72},{"t":61237.25,"r":0.26},{"t":61237.31,"r":1.49},{"t":61237.38,"r":-0.55},{"t":61237.44,"r":0.43},{"t":61237.5,"r":-0.96},{"t":61237.56,"r":0.67},{"t":61237.63,"r":-0.21},{"t":61237.69,"r":0.38},{"t":61237.75,"r":-0.12},{"t":61237.81,"r":-0.64},{"t":61237.88,"r":0.15},{"t":61237.94,"r":0.49},
      {"t":61238,"r":-1.41},{"t":61238.06,"r":0.53},{"t":61238.13,"r":-0.17},{"t":61238.19,"r":1.21},{"t":61238.25,"r":-0.84},{"t":61238.31,"r":0.36},{"t":61238.38,"r":-0.62},{"t":61238.44,"r":0.94},{"t":61238.5,"r":-0.29},{"t":61238.56,"r":0.58},{"t":61238.63,"r":-1.01},{"t":61238.69,"r":0.21},{"t":61238.75,"r":0.11},{"t":61238.81,"r":-0.38},{"t":61238.88,"r":0.72},{"t":61238.94,"r":-0.06},
      {"t":61239,"r":1.29},{"t":61239.06,"r":-1.93},{"t":61239.13,"r":0.47},{"t":61239.19,"r":-0.58},{"t":61239.25,"r":0.86},{"t":61239.31,"r":-0.33},{"t":61239.38,"r":0.62},{"t":61239.44,"r":-0.95},{"t":61239.5,"r":0.13},{"t":61239.56,"r":1.32},{"t":61239.63,"r":-0.47},{"t":61239.69,"r":0.27},{"t":61239.75,"r":-0.16},{"t":61239.81,"r":0.54},{"t":61239.88,"r":-0.71},{"t":61239.94,"r":0.03},
      {"t":61240,"r":-0.72},{"t":61240.06,"r":0.44},{"t":61240.13,"r":-1.01},{"t":61240.19,"r":0.69},{"t":61240.25,"r":-0.26},{"t":61240.31,"r":1.59},{"t":61240.38,"r":-0.48},{"t":61240.44,"r":0.31},{"t":61240.5,"r":-0.99},{"t":61240.56,"r":0.57},{"t":61240.63,"r":-0.14},{"t":61240.69,"r":0.83},{"t":61240.75,"r":0.21},{"t":61240.81,"r":-0.43},{"t":61240.88,"r":0.08},{"t":61240.94,"r":-0.97},
      {"t":61241,"r":-1.97},{"t":61241.06,"r":0.66},{"t":61241.13,"r":-0.41},{"t":61241.19,"r":1.27},{"t":61241.25,"r":-0.93},{"t":61241.31,"r":0.38},{"t":61241.38,"r":-0.22},{"t":61241.44,"r":1.37},{"t":61241.5,"r":-0.64},{"t":61241.56,"r":0.15},{"t":61241.63,"r":-1.21},{"t":61241.69,"r":0.49},{"t":61241.75,"r":-0.04},{"t":61241.81,"r":0.29},{"t":61241.88,"r":-0.55},{"t":61241.94,"r":0.71},
      {"t":61242,"r":0.33},{"t":61242.06,"r":-0.79},{"t":61242.13,"r":0.92},{"t":61242.19,"r":-0.36},{"t":61242.25,"r":1.54},{"t":61242.31,"r":-0.58},{"t":61242.38,"r":0.24},{"t":61242.44,"r":-1.41},{"t":61242.5,"r":0.67},{"t":61242.56,"r":-0.18},{"t":61242.63,"r":1.26},{"t":61242.69,"r":-0.52},{"t":61242.75,"r":0.05},{"t":61242.81,"r":-0.27},{"t":61242.88,"r":0.44},{"t":61242.94,"r":-0.11},
      {"t":61243,"r":-1.64},{"t":61243.06,"r":0.41},{"t":61243.13,"r":-0.87},{"t":61243.19,"r":1.07},{"t":61243.25,"r":-0.29},{"t":61243.31,"r":0.73},{"t":61243.38,"r":-1.09},{"t":61243.44,"r":0.21},{"t":61243.5,"r":1.29},{"t":61243.56,"r":-0.42},{"t":61243.63,"r":0.56},{"t":61243.69,"r":-0.75},{"t":61243.75,"r":0.13},{"t":61243.81,"r":-0.36},{"t":61243.88,"r":0.62},{"t":61243.94,"r":-0.19},
      {"t":61244,"r":0.62},{"t":61244.06,"r":-1.33},{"t":61244.13,"r":0.28},{"t":61244.19,"r":-0.61},{"t":61244.25,"r":0.97},{"t":61244.31,"r":-1.58},{"t":61244.38,"r":0.44},{"t":61244.44,"r":-0.24},{"t":61244.5,"r":1.05},{"t":61244.56,"r":-0.68},{"t":61244.63,"r":0.17},{"t":61244.69,"r":-0.41},{"t":61244.75,"r":0.33},{"t":61244.81,"r":-0.85},{"t":61244.88,"r":0.52},{"t":61244.94,"r":1.69},
      {"t":61245,"r":-1.95},{"t":61245.06,"r":0.53},{"t":61245.13,"r":-1.18},{"t":61245.19,"r":1.74},{"t":61245.25,"r":-0.36},{"t":61245.31,"r":1.41},{"t":61245.38,"r":-0.52},{"t":61245.44,"r":0.62},{"t":61245.5,"r":-1.98},{"t":61245.56,"r":1.85},{"t":61245.63,"r":-0.27},{"t":61245.69,"r":0.48},{"t":61245.75,"r":-0.63},{"t":61245.81,"r":0.19},{"t":61245.88,"r":-1.07},{"t":61245.94,"r":0.38},
      {"t":61246,"r":-1.44},{"t":61246.06,"r":0.96},{"t":61246.13,"r":-0.31},{"t":61246.19,"r":1.17},{"t":61246.25,"r":-0.66},{"t":61246.31,"r":0.22},{"t":61246.38,"r":-1.57},{"t":61246.44,"r":1.36},{"t":61246.5,"r":-0.19},{"t":61246.56,"r":0.71},{"t":61246.63,"r":-0.91},{"t":61246.69,"r":0.35},{"t":61246.75,"r":0.09},{"t":61246.81,"r":-0.47},{"t":61246.88,"r":0.26},{"t":61246.94,"r":-0.18},
      {"t":61247,"r":0.84},{"t":61247.06,"r":-0.48},{"t":61247.13,"r":1.64},{"t":61247.19,"r":-1.23},{"t":61247.25,"r":0.29},{"t":61247.31,"r":-0.73},{"t":61247.38,"r":0.59},{"t":61247.44,"r":-0.12},{"t":61247.5,"r":1.07},{"t":61247.56,"r":-0.97},{"t":61247.63,"r":0.42},{"t":61247.69,"r":-0.31},{"t":61247.75,"r":0.16},{"t":61247.81,"r":-0.54},{"t":61247.88,"r":0.37},{"t":61247.94,"r":-0.08},
      {"t":61248,"r":0.76},{"t":61248.06,"r":-1.28},{"t":61248.13,"r":0.33},{"t":61248.19,"r":-0.54},{"t":61248.25,"r":1.03},{"t":61248.31,"r":-1.51},{"t":61248.38,"r":0.18},{"t":61248.44,"r":0.65},{"t":61248.5,"r":-0.39},{"t":61248.56,"r":1.27},{"t":61248.63,"r":-0.86},{"t":61248.69,"r":0.49},{"t":61248.75,"r":-0.15},{"t":61248.81,"r":0.24},{"t":61248.88,"r":-0.62},{"t":61248.94,"r":0.11},
      {"t":61249,"r":1.56},{"t":61249.06,"r":-0.67},{"t":61249.13,"r":0.27},{"t":61249.19,"r":-1.31},{"t":61249.25,"r":0.88},{"t":61249.31,"r":-0.42},{"t":61249.38,"r":1.22},{"t":61249.44,"r":-0.23},{"t":61249.5,"r":0.57},{"t":61249.56,"r":-1.06},{"t":61249.63,"r":0.35},{"t":61249.69,"r":-0.61},{"t":61249.75,"r":0.14},{"t":61249.81,"r":-0.29},{"t":61249.88,"r":0.46},{"t":61249.94,"r":-0.83},
      {"t":61250,"r":1.48},{"t":61250.06,"r":-0.96},{"t":61250.13,"r":0.42},{"t":61250.19,"r":-1.47},{"t":61250.25,"r":0.71},{"t":61250.31,"r":-0.28},{"t":61250.38,"r":0.93},{"t":61250.44,"r":-1.11},{"t":61250.5,"r":0.22},{"t":61250.56,"r":1.19},{"t":61250.63,"r":-0.44},{"t":61250.69,"r":0.63},{"t":61250.75,"r":-0.17},{"t":61250.81,"r":0.38},{"t":61250.88,"r":-0.72},{"t":61250.94,"r":0.05},
      {"t":61217.03,"r":-0.48},{"t":61217.16,"r":0.33},{"t":61217.28,"r":-0.12},{"t":61217.41,"r":0.71},{"t":61217.53,"r":-0.66},{"t":61217.66,"r":0.09},{"t":61217.78,"r":-0.27},{"t":61217.91,"r":0.44},
      {"t":61218.03,"r":0.18},{"t":61218.16,"r":-0.52},{"t":61218.28,"r":0.87},{"t":61218.41,"r":-0.31},{"t":61218.53,"r":0.25},{"t":61218.66,"r":-0.74},{"t":61218.78,"r":0.56},{"t":61218.91,"r":-0.09},
      {"t":61219.03,"r":0.62},{"t":61219.16,"r":-0.15},{"t":61219.28,"r":0.34},{"t":61219.41,"r":-0.88},{"t":61219.53,"r":0.07},{"t":61219.66,"r":0.49},{"t":61219.78,"r":-0.41},{"t":61219.91,"r":0.22},
      {"t":61220.03,"r":-0.26},{"t":61220.16,"r":0.58},{"t":61220.28,"r":-0.63},{"t":61220.41,"r":0.14},{"t":61220.53,"r":0.83},{"t":61220.66,"r":-0.35},{"t":61220.78,"r":0.29},{"t":61220.91,"r":-0.81},
      {"t":61221.03,"r":0.45},{"t":61221.16,"r":-0.22},{"t":61221.28,"r":0.68},{"t":61221.41,"r":-0.54},{"t":61221.53,"r":0.11},{"t":61221.66,"r":-0.97},{"t":61221.78,"r":0.38},{"t":61221.91,"r":0.06},
      {"t":61222.03,"r":-0.61},{"t":61222.16,"r":0.27},{"t":61222.28,"r":-0.13},{"t":61222.41,"r":0.92},{"t":61222.53,"r":-0.45},{"t":61222.66,"r":0.34},{"t":61222.78,"r":-0.77},{"t":61222.91,"r":0.19},
      {"t":61223.03,"r":0.53},{"t":61223.16,"r":-0.84},{"t":61223.28,"r":0.16},{"t":61223.41,"r":-0.28},{"t":61223.53,"r":0.72},{"t":61223.66,"r":-0.46},{"t":61223.78,"r":0.05},{"t":61223.91,"r":0.61},
      {"t":61224.03,"r":-0.19},{"t":61224.16,"r":0.41},{"t":61224.28,"r":-0.72},{"t":61224.41,"r":0.23},{"t":61224.53,"r":-0.37},{"t":61224.66,"r":0.85},{"t":61224.78,"r":-0.11},{"t":61224.91,"r":0.32},
      {"t":61225.03,"r":0.26},{"t":61225.16,"r":-0.49},{"t":61225.28,"r":0.58},{"t":61225.41,"r":-0.06},{"t":61225.53,"r":-0.82},{"t":61225.66,"r":0.39},{"t":61225.78,"r":-0.24},{"t":61225.91,"r":0.67},
      {"t":61226.03,"r":-0.35},{"t":61226.16,"r":0.12},{"t":61226.28,"r":-0.58},{"t":61226.41,"r":0.47},{"t":61226.53,"r":0.03},{"t":61226.66,"r":-0.69},{"t":61226.78,"r":0.54},{"t":61226.91,"r":-0.21},
      {"t":61227.03,"r":0.39},{"t":61227.16,"r":-0.27},{"t":61227.28,"r":0.81},{"t":61227.41,"r":-0.62},{"t":61227.53,"r":0.18},{"t":61227.66,"r":-0.08},{"t":61227.78,"r":-0.53},{"t":61227.91,"r":0.29},
      {"t":61228.03,"r":-0.44},{"t":61228.16,"r":0.63},{"t":61228.28,"r":-0.19},{"t":61228.41,"r":0.35},{"t":61228.53,"r":-0.76},{"t":61228.66,"r":0.52},{"t":61228.78,"r":-0.03},{"t":61228.91,"r":-0.31},
      {"t":61229.03,"r":0.21},{"t":61229.16,"r":-0.58},{"t":61229.28,"r":0.46},{"t":61229.41,"r":-0.15},{"t":61229.53,"r":0.94},{"t":61229.66,"r":-0.37},{"t":61229.78,"r":0.13},{"t":61229.91,"r":-0.65},
      {"t":61230.03,"r":-0.09},{"t":61230.16,"r":0.37},{"t":61230.28,"r":-0.71},{"t":61230.41,"r":0.55},{"t":61230.53,"r":-0.24},{"t":61230.66,"r":0.16},{"t":61230.78,"r":-0.49},{"t":61230.91,"r":0.82},
      {"t":61231.03,"r":0.31},{"t":61231.16,"r":-0.43},{"t":61231.28,"r":0.07},{"t":61231.41,"r":0.64},{"t":61231.53,"r":-0.57},{"t":61231.66,"r":0.25},{"t":61231.78,"r":-0.86},{"t":61231.91,"r":0.42},
      {"t":61232.03,"r":-0.25},{"t":61232.16,"r":0.19},{"t":61232.28,"r":-0.63},{"t":61232.41,"r":0.38},{"t":61232.53,"r":0.02},{"t":61232.66,"r":-0.47},{"t":61232.78,"r":0.73},{"t":61232.91,"r":-0.14},
      {"t":61233.03,"r":0.47},{"t":61233.16,"r":-0.32},{"t":61233.28,"r":0.21},{"t":61233.41,"r":-0.79},{"t":61233.53,"r":0.36},{"t":61233.66,"r":0.11},{"t":61233.78,"r":-0.42},{"t":61233.91,"r":0.66},
      {"t":61234.03,"r":-0.38},{"t":61234.16,"r":0.54},{"t":61234.28,"r":-0.07},{"t":61234.41,"r":-0.61},{"t":61234.53,"r":0.29},{"t":61234.66,"r":-0.19},{"t":61234.78,"r":0.81},{"t":61234.91,"r":-0.46},
      {"t":61235.03,"r":0.15},{"t":61235.16,"r":-0.67},{"t":61235.28,"r":0.43},{"t":61235.41,"r":-0.21},{"t":61235.53,"r":0.68},{"t":61235.66,"r":-0.52},{"t":61235.78,"r":0.04},{"t":61235.91,"r":0.33},
      {"t":61236.03,"r":-0.57},{"t":61236.16,"r":0.28},{"t":61236.28,"r":-0.35},{"t":61236.41,"r":0.76},{"t":61236.53,"r":-0.12},{"t":61236.66,"r":0.41},{"t":61236.78,"r":-0.83},{"t":61236.91,"r":0.23},
      {"t":61237.03,"r":0.34},{"t":61237.16,"r":-0.16},{"t":61237.28,"r":0.59},{"t":61237.41,"r":-0.47},{"t":61237.53,"r":0.08},{"t":61237.66,"r":-0.72},{"t":61237.78,"r":0.37},{"t":61237.91,"r":-0.29},
      {"t":61238.03,"r":-0.06},{"t":61238.16,"r":0.48},{"t":61238.28,"r":-0.55},{"t":61238.41,"r":0.17},{"t":61238.53,"r":0.64},{"t":61238.66,"r":-0.33},{"t":61238.78,"r":0.26},{"t":61238.91,"r":-0.78},
      {"t":61239.03,"r":0.42},{"t":61239.16,"r":-0.39},{"t":61239.28,"r":0.13},{"t":61239.41,"r":-0.66},{"t":61239.53,"r":0.31},{"t":61239.66,"r":0.75},{"t":61239.78,"r":-0.24},{"t":61239.91,"r":0.09},
      {"t":61240.03,"r":-0.51},{"t":61240.16,"r":0.22},{"t":61240.28,"r":0.66},{"t":61240.41,"r":-0.29},{"t":61240.53,"r":0.05},{"t":61240.66,"r":-0.62},{"t":61240.78,"r":0.44},{"t":61240.91,"r":-0.17},
      {"t":61241.03,"r":0.27},{"t":61241.16,"r":-0.74},{"t":61241.28,"r":0.39},{"t":61241.41,"r":-0.13},{"t":61241.53,"r":0.57},{"t":61241.66,"r":-0.45},{"t":61241.78,"r":0.18},{"t":61241.91,"r":0.84},
      {"t":61242.03,"r":-0.33},{"t":61242.16,"r":0.46},{"t":61242.28,"r":-0.21},{"t":61242.41,"r":0.71},{"t":61242.53,"r":-0.58},{"t":61242.66,"r":0.12},{"t":61242.78,"r":-0.39},{"t":61242.91,"r":0.25},
      {"t":61243.03,"r":0.58},{"t":61243.16,"r":-0.18},{"t":61243.28,"r":0.32},{"t":61243.41,"r":-0.69},{"t":61243.53,"r":0.24},{"t":61243.66,"r":-0.07},{"t":61243.78,"r":0.77},{"t":61243.91,"r":-0.49},
      {"t":61244.03,"r":-0.14},{"t":61244.16,"r":0.61},{"t":61244.28,"r":-0.46},{"t":61244.41,"r":0.19},{"t":61244.53,"r":-0.72},{"t":61244.66,"r":0.38},{"t":61244.78,"r":0.01},{"t":61244.91,"r":-0.57},
      {"t":61245.03,"r":0.36},{"t":61245.16,"r":-0.61},{"t":61245.28,"r":0.85},{"t":61245.41,"r":-0.23},{"t":61245.53,"r":0.47},{"t":61245.66,"r":-0.84},{"t":61245.78,"r":0.15},{"t":61245.91,"r":0.59},
      {"t":61246.03,"r":-0.42},{"t":61246.16,"r":0.17},{"t":61246.28,"r":-0.68},{"t":61246.41,"r":0.53},{"t":61246.53,"r":-0.09},{"t":61246.66,"r":0.33},{"t":61246.78,"r":-0.75},{"t":61246.91,"r":0.44},
      {"t":61247.03,"r":0.21},{"t":61247.16,"r":-0.36},{"t":61247.28,"r":0.49},{"t":61247.41,"r":-0.58},{"t":61247.53,"r":0.13},{"t":61247.66,"r":0.67},{"t":61247.78,"r":-0.22},{"t":61247.91,"r":-0.41},
      {"t":61248.03,"r":-0.27},{"t":61248.16,"r":0.52},{"t":61248.28,"r":-0.11},{"t":61248.41,"r":0.38},{"t":61248.53,"r":-0.64},{"t":61248.66,"r":0.07},{"t":61248.78,"r":0.56},{"t":61248.91,"r":-0.33},
      {"t":61249.03,"r":0.43},{"t":61249.16,"r":-0.19},{"t":61249.28,"r":0.64},{"t":61249.41,"r":-0.47},{"t":61249.53,"r":0.28},{"t":61249.66,"r":-0.71},{"t":61249.78,"r":0.11},{"t":61249.91,"r":0.52},
      {"t":61250.03,"r":-0.36},{"t":61250.16,"r":0.25},{"t":61250.28,"r":-0.58},{"t":61250.41,"r":0.41},{"t":61250.53,"r":-0.15},{"t":61250.66,"r":0.73},{"t":61250.78,"r":-0.49},{"t":61250.91,"r":0.17},
      {"t":61217.09,"r":0.29},{"t":61217.22,"r":-0.74},{"t":61217.34,"r":0.46},{"t":61217.47,"r":-0.15},{"t":61217.59,"r":0.92},{"t":61217.72,"r":-0.38},{"t":61217.84,"r":0.07},{"t":61217.97,"r":-0.56},
      {"t":61218.09,"r":-0.43},{"t":61218.22,"r":0.21},{"t":61218.34,"r":-0.67},{"t":61218.47,"r":1.12},{"t":61218.59,"r":-0.09},{"t":61218.72,"r":0.36},{"t":61218.84,"r":-0.82},{"t":61218.97,"r":0.53},
      {"t":61219.09,"r":0.14},{"t":61219.22,"r":-0.51},{"t":61219.34,"r":0.79},{"t":61219.47,"r":-0.27},{"t":61219.59,"r":0.41},{"t":61219.72,"r":-0.93},{"t":61219.84,"r":0.26},{"t":61219.97,"r":-0.12},
      {"t":61220.09,"r":0.58},{"t":61220.22,"r":-0.19},{"t":61220.34,"r":-0.84},{"t":61220.47,"r":0.43},{"t":61220.59,"r":-0.31},{"t":61220.72,"r":0.67},{"t":61220.84,"r":-0.05},{"t":61220.97,"r":0.22},
      {"t":61221.09,"r":-0.73},{"t":61221.22,"r":0.34},{"t":61221.34,"r":0.11},{"t":61221.47,"r":-0.45},{"t":61221.59,"r":0.76},{"t":61221.72,"r":-0.23},{"t":61221.84,"r":0.49},{"t":61221.97,"r":-1.06},
      {"t":61222.09,"r":0.24},{"t":61222.22,"r":-0.37},{"t":61222.34,"r":0.63},{"t":61222.47,"r":-0.86},{"t":61222.59,"r":0.17},{"t":61222.72,"r":0.52},{"t":61222.84,"r":-0.28},{"t":61222.97,"r":-0.61},
      {"t":61223.09,"r":-0.16},{"t":61223.22,"r":0.73},{"t":61223.34,"r":-0.42},{"t":61223.47,"r":0.31},{"t":61223.59,"r":-0.97},{"t":61223.72,"r":0.08},{"t":61223.84,"r":0.59},{"t":61223.97,"r":-0.34},
      {"t":61224.09,"r":0.45},{"t":61224.22,"r":-0.09},{"t":61224.34,"r":0.87},{"t":61224.47,"r":-0.53},{"t":61224.59,"r":0.22},{"t":61224.72,"r":-0.71},{"t":61224.84,"r":0.38},{"t":61224.97,"r":-0.25},
      {"t":61225.09,"r":-0.62},{"t":61225.22,"r":0.18},{"t":61225.34,"r":-0.33},{"t":61225.47,"r":0.64},{"t":61225.59,"r":-0.14},{"t":61225.72,"r":0.91},{"t":61225.84,"r":-0.47},{"t":61225.97,"r":0.06},
      {"t":61226.09,"r":0.37},{"t":61226.22,"r":-0.58},{"t":61226.34,"r":0.13},{"t":61226.47,"r":-0.22},{"t":61226.59,"r":0.69},{"t":61226.72,"r":-0.41},{"t":61226.84,"r":-0.89},{"t":61226.97,"r":0.28},
      {"t":61227.09,"r":-0.27},{"t":61227.22,"r":0.62},{"t":61227.34,"r":-0.48},{"t":61227.47,"r":0.19},{"t":61227.59,"r":-0.66},{"t":61227.72,"r":0.35},{"t":61227.84,"r":0.84},{"t":61227.97,"r":-0.13},
      {"t":61228.09,"r":0.53},{"t":61228.22,"r":-0.31},{"t":61228.34,"r":0.08},{"t":61228.47,"r":-0.76},{"t":61228.59,"r":0.44},{"t":61228.72,"r":-0.17},{"t":61228.84,"r":0.29},{"t":61228.97,"r":-0.94},
      {"t":61229.09,"r":-0.38},{"t":61229.22,"r":0.82},{"t":61229.34,"r":-0.21},{"t":61229.47,"r":0.47},{"t":61229.59,"r":-0.54},{"t":61229.72,"r":0.15},{"t":61229.84,"r":-0.73},{"t":61229.97,"r":0.36},
      {"t":61230.09,"r":0.19},{"t":61230.22,"r":-0.64},{"t":61230.34,"r":0.57},{"t":61230.47,"r":-0.08},{"t":61230.59,"r":-0.39},{"t":61230.72,"r":0.72},{"t":61230.84,"r":-0.26},{"t":61230.97,"r":0.43},
      {"t":61231.09,"r":-0.55},{"t":61231.22,"r":0.26},{"t":61231.34,"r":-0.14},{"t":61231.47,"r":0.81},{"t":61231.59,"r":-0.37},{"t":61231.72,"r":-0.68},{"t":61231.84,"r":0.49},{"t":61231.97,"r":-0.02},
      {"t":61232.09,"r":0.34},{"t":61232.22,"r":-0.46},{"t":61232.34,"r":0.68},{"t":61232.47,"r":-0.29},{"t":61232.59,"r":0.12},{"t":61232.72,"r":-0.83},{"t":61232.84,"r":0.41},{"t":61232.97,"r":0.57},
      {"t":61233.09,"r":-0.21},{"t":61233.22,"r":0.39},{"t":61233.34,"r":-0.75},{"t":61233.47,"r":0.16},{"t":61233.59,"r":0.63},{"t":61233.72,"r":-0.44},{"t":61233.84,"r":0.07},{"t":61233.97,"r":-0.58},
      {"t":61234.09,"r":0.48},{"t":61234.22,"r":-0.13},{"t":61234.34,"r":0.28},{"t":61234.47,"r":-0.91},{"t":61234.59,"r":0.37},{"t":61234.72,"r":0.74},{"t":61234.84,"r":-0.36},{"t":61234.97,"r":0.11},
      {"t":61235.09,"r":-0.44},{"t":61235.22,"r":0.57},{"t":61235.34,"r":-0.24},{"t":61235.47,"r":0.35},{"t":61235.59,"r":-0.71},{"t":61235.72,"r":0.19},{"t":61235.84,"r":-0.52},{"t":61235.97,"r":0.83},
      {"t":61236.09,"r":0.26},{"t":61236.22,"r":-0.35},{"t":61236.34,"r":0.44},{"t":61236.47,"r":-0.63},{"t":61236.59,"r":0.09},{"t":61236.72,"r":-0.18},{"t":61236.84,"r":0.71},{"t":61236.97,"r":-0.47},
      {"t":61237.09,"r":-0.12},{"t":61237.22,"r":0.51},{"t":61237.34,"r":-0.66},{"t":61237.47,"r":0.27},{"t":61237.59,"r":-0.39},{"t":61237.72,"r":0.86},{"t":61237.84,"r":-0.07},{"t":61237.97,"r":0.32},
      {"t":61238.09,"r":0.61},{"t":61238.22,"r":-0.28},{"t":61238.34,"r":0.15},{"t":61238.47,"r":-0.54},{"t":61238.59,"r":0.42},{"t":61238.72,"r":-0.81},{"t":61238.84,"r":0.33},{"t":61238.97,"r":-0.19},
      {"t":61239.09,"r":-0.36},{"t":61239.22,"r":0.23},{"t":61239.34,"r":-0.49},{"t":61239.47,"r":0.69},{"t":61239.59,"r":-0.11},{"t":61239.72,"r":0.38},{"t":61239.84,"r":-0.87},{"t":61239.97,"r":0.54},
      {"t":61240.09,"r":0.17},{"t":61240.22,"r":-0.57},{"t":61240.34,"r":0.32},{"t":61240.47,"r":-0.15},{"t":61240.59,"r":0.78},{"t":61240.72,"r":-0.42},{"t":61240.84,"r":0.06},{"t":61240.97,"r":-0.69},
      {"t":61241.09,"r":-0.48},{"t":61241.22,"r":0.37},{"t":61241.34,"r":-0.93},{"t":61241.47,"r":0.21},{"t":61241.59,"r":-0.26},{"t":61241.72,"r":0.62},{"t":61241.84,"r":-0.35},{"t":61241.97,"r":0.14},
      {"t":61242.09,"r":0.55},{"t":61242.22,"r":-0.12},{"t":61242.34,"r":0.27},{"t":61242.47,"r":-0.68},{"t":61242.59,"r":0.39},{"t":61242.72,"r":-0.31},{"t":61242.84,"r":0.83},{"t":61242.97,"r":-0.44},
      {"t":61243.09,"r":-0.23},{"t":61243.22,"r":0.66},{"t":61243.34,"r":-0.38},{"t":61243.47,"r":0.09},{"t":61243.59,"r":-0.59},{"t":61243.72,"r":0.47},{"t":61243.84,"r":-0.16},{"t":61243.97,"r":0.35},
      {"t":61244.09,"r":0.41},{"t":61244.22,"r":-0.77},{"t":61244.34,"r":0.18},{"t":61244.47,"r":-0.32},{"t":61244.59,"r":0.59},{"t":61244.72,"r":-0.51},{"t":61244.84,"r":-0.95},{"t":61244.97,"r":0.26},
      {"t":61245.09,"r":-0.31},{"t":61245.22,"r":0.44},{"t":61245.34,"r":-0.62},{"t":61245.47,"r":0.73},{"t":61245.59,"r":-0.18},{"t":61245.72,"r":0.29},{"t":61245.84,"r":-0.76},{"t":61245.97,"r":0.52},
      {"t":61246.09,"r":0.33},{"t":61246.22,"r":-0.26},{"t":61246.34,"r":0.58},{"t":61246.47,"r":-0.41},{"t":61246.59,"r":-0.86},{"t":61246.72,"r":0.14},{"t":61246.84,"r":0.47},{"t":61246.97,"r":-0.21},
      {"t":61247.09,"r":-0.57},{"t":61247.22,"r":0.31},{"t":61247.34,"r":-0.09},{"t":61247.47,"r":0.64},{"t":61247.59,"r":-0.33},{"t":61247.72,"r":0.18},{"t":61247.84,"r":-0.72},{"t":61247.97,"r":0.45},
      {"t":61248.09,"r":0.22},{"t":61248.22,"r":-0.49},{"t":61248.34,"r":0.71},{"t":61248.47,"r":-0.17},{"t":61248.59,"r":0.36},{"t":61248.72,"r":-0.62},{"t":61248.84,"r":0.13},{"t":61248.97,"r":-0.38},
      {"t":61249.09,"r":-0.41},{"t":61249.22,"r":0.58},{"t":61249.34,"r":-0.27},{"t":61249.47,"r":0.39},{"t":61249.59,"r":-0.79},{"t":61249.72,"r":0.24},{"t":61249.84,"r":-0.12},{"t":61249.97,"r":0.67},
      {"t":61250.09,"r":0.35},{"t":61250.22,"r":-0.53},{"t":61250.34,"r":0.16},{"t":61250.47,"r":-0.88},{"t":61250.59,"r":0.47},{"t":61250.72,"r":-0.22},{"t":61250.84,"r":0.61},{"t":61250.97,"r":-0.34}
    ],
    "adev": [
      {"x":2.987,"y":-12.1205,"v":757.7},{"x":3.288,"y":-12.5225,"v":300.3},{"x":3.589,"y":-12.8511,"v":140.9},
      {"x":3.890,"y":-13.1267,"v":74.7},{"x":4.191,"y":-13.342,"v":45.5},{"x":4.492,"y":-13.5969,"v":25.3},
      {"x":4.793,"y":-13.8125,"v":15.4},{"x":5.094,"y":-13.7986,"v":15.9},{"x":5.395,"y":-13.767,"v":17.1},
      {"x":5.696,"y":-13.9393,"v":11.5}
    ],
    "tdev": [
      {"x":2.987,"y":-9.3768,"v":4.2},{"x":3.288,"y":-9.4685,"v":3.4},{"x":3.589,"y":-9.4949,"v":3.2},
      {"x":3.890,"y":-9.4815,"v":3.3},{"x":4.191,"y":-9.3872,"v":4.1},{"x":4.492,"y":-9.3468,"v":4.5},
      {"x":4.793,"y":-9.2596,"v":5.5},{"x":5.094,"y":-8.9431,"v":11.4},{"x":5.395,"y":-8.6091,"v":24.6},
      {"x":5.696,"y":-8.4828,"v":32.9}
    ],
    "spans": [
      {"x":3.255,"lab":"h/2"},{"x":3.556,"lab":"h"},{"x":4.033,"lab":"d/8"},{"x":4.334,"lab":"d/4"},
      {"x":4.635,"lab":"d/2"},{"x":4.936,"lab":"day"},{"x":5.414,"lab":"ddd"},{"x":5.782,"lab":"wk"}
    ]
  },
  "vconcat": [
    {
      "width": 1260,
      "height": 720,
      "title": {"text": "UTC(UZ)-UTC(PTB)\u00a0 /GALP3\u00a0 (UZ__,PT13)", "font": "Liberation Sans", "fontSize": 35, "fontWeight": "normal", "color": "black", "anchor": "middle", "frame": "group", "offset": -7, "baseline": "bottom"},
      "resolve": {"axis": {"x": "independent", "y": "independent"}},
      "layer": [
        {
          "data": {"name": "raw"},
          "mark": {"type": "point", "shape": "M-1,-1L1,1M-1,1L1,-1", "filled": false, "size": 56, "strokeWidth": 1.5, "color": "black", "opacity": 1},
          "encoding": {
            "x": {"field": "t", "type": "quantitative", "scale": {"domain": [61217, 61251], "nice": false, "zero": false},
                  "axis": {"orient": "bottom", "values": [61220,61225,61230,61235,61240,61245,61250], "format": "d", "tickSize": 14, "labelPadding": 8, "title": "Modified Julian Date", "titlePadding": 2}},
            "y": {"field": "v", "type": "quantitative", "scale": {"domain": [0, 87], "nice": false, "zero": false},
                  "axis": {"orient": "left", "values": [0,10,20,30,40,50,60,70,80], "format": "d", "tickSize": 14, "labelPadding": 13, "title": "nanosecond", "titlePadding": 0}}
          }
        },
        {
          "data": {"name": "curve"},
          "mark": {"type": "line", "color": "#1e90ff", "strokeWidth": 4, "interpolate": "monotone"},
          "encoding": {
            "x": {"field": "t", "type": "quantitative", "scale": {"domain": [61217, 61251], "nice": false, "zero": false},
                  "axis": {"orient": "bottom", "values": [61217,61218,61219,61220,61221,61222,61223,61224,61225,61226,61227,61228,61229,61230,61231,61232,61233,61234,61235,61236,61237,61238,61239,61240,61241,61242,61243,61244,61245,61246,61247,61248,61249,61250,61251], "tickSize": 7, "labels": false, "title": null}},
            "y": {"field": "v", "type": "quantitative", "scale": {"domain": [0, 87], "nice": false, "zero": false},
                  "axis": {"orient": "right", "values": [0,10,20,30,40,50,60,70,80], "tickSize": 14, "labels": false, "title": null}}
          }
        },
        {
          "data": {"name": "tri"},
          "mark": {"type": "point", "shape": "triangle-up", "size": 1300, "filled": false, "color": "#ff0000", "strokeWidth": 3, "opacity": 1},
          "encoding": {
            "x": {"field": "t", "type": "quantitative", "scale": {"domain": [61217, 61251], "nice": false, "zero": false},
                  "axis": {"orient": "top", "values": [61220,61225,61230,61235,61240,61245,61250], "tickSize": 14, "labels": false, "title": null}},
            "y": {"field": "v", "type": "quantitative", "scale": {"domain": [0, 87], "nice": false, "zero": false},
                  "axis": {"orient": "left", "values": [0], "tickSize": 130, "tickOpacity": 0, "labels": false, "title": null}}
          }
        },
        {
          "data": {"name": "tri"},
          "mark": {"type": "text", "color": "#ff0000", "fontSize": 23, "fontWeight": "bold", "dy": -70, "baseline": "middle", "align": "center"},
          "encoding": {
            "x": {"field": "t", "type": "quantitative", "scale": {"domain": [61217, 61251], "nice": false, "zero": false},
                  "axis": {"orient": "top", "values": [61217,61218,61219,61220,61221,61222,61223,61224,61225,61226,61227,61228,61229,61230,61231,61232,61233,61234,61235,61236,61237,61238,61239,61240,61241,61242,61243,61244,61245,61246,61247,61248,61249,61250,61251], "tickSize": 7, "labels": false, "title": null}},
            "y": {"field": "v", "type": "quantitative", "scale": {"domain": [0, 87], "nice": false, "zero": false}, "axis": null},
            "text": {"field": "v", "type": "quantitative", "format": ".1f"}
          }
        },
        {
          "data": {"values": [{}]},
          "mark": {"type": "text", "text": "GAL.GPI/Tai2607__UZ__-PT13/064-005#_\u00a0 3112/1_AV/L2U__CLB__________", "align": "left", "baseline": "middle", "fontSize": 30, "fontWeight": "bold", "color": "black"},
          "encoding": {
            "x": {"datum": 61218.0, "type": "quantitative", "scale": {"domain": [61217, 61251], "nice": false, "zero": false}, "axis": null},
            "y": {"datum": 5.56, "type": "quantitative", "scale": {"domain": [0, 87], "nice": false, "zero": false}, "axis": null}
          }
        }
      ]
    },
    {
      "width": 1260,
      "height": 450,
      "resolve": {"axis": {"x": "independent", "y": "independent"}},
      "layer": [
        {
          "data": {"name": "resid"},
          "transform": [{"filter": "datum.t < 61228"}],
          "mark": {"type": "point", "shape": "M-1,-1L1,1M-1,1L1,-1", "filled": false, "size": 30, "strokeWidth": 1.1, "color": "black", "opacity": 1},
          "encoding": {
            "x": {"field": "t", "type": "quantitative", "scale": {"domain": [61217, 61251], "nice": false, "zero": false},
                  "axis": {"orient": "bottom", "values": [61220,61225,61230,61235,61240,61245,61250], "format": "d", "tickSize": 14, "labelPadding": 9, "title": "Modified Julian Date", "titlePadding": 3}},
            "y": {"field": "r", "type": "quantitative", "scale": {"domain": [-2.5, 2.5], "nice": false, "zero": false},
                  "axis": {"orient": "left", "values": [-2,-1.5,-1,-0.5,0,0.5,1,1.5,2], "format": ".1f", "tickSize": 14, "labelPadding": 13, "title": "residuals (ns)", "titlePadding": 5}}
          }
        },
        {
          "data": {"name": "resid"},
          "transform": [{"filter": "datum.t >= 61228 && datum.t < 61240"}],
          "mark": {"type": "point", "shape": "M-1,-1L1,1M-1,1L1,-1", "filled": false, "size": 30, "strokeWidth": 1.1, "color": "black", "opacity": 1},
          "encoding": {
            "x": {"field": "t", "type": "quantitative", "scale": {"domain": [61217, 61251], "nice": false, "zero": false},
                  "axis": {"orient": "bottom", "values": [61217,61218,61219,61220,61221,61222,61223,61224,61225,61226,61227,61228,61229,61230,61231,61232,61233,61234,61235,61236,61237,61238,61239,61240,61241,61242,61243,61244,61245,61246,61247,61248,61249,61250,61251], "tickSize": 7, "labels": false, "title": null}},
            "y": {"field": "r", "type": "quantitative", "scale": {"domain": [-2.5, 2.5], "nice": false, "zero": false},
                  "axis": {"orient": "right", "values": [-2,-1.5,-1,-0.5,0,0.5,1,1.5,2], "tickSize": 14, "labels": false, "title": null}}
          }
        },
        {
          "data": {"name": "resid"},
          "transform": [{"filter": "datum.t >= 61240"}],
          "mark": {"type": "point", "shape": "M-1,-1L1,1M-1,1L1,-1", "filled": false, "size": 30, "strokeWidth": 1.1, "color": "black", "opacity": 1},
          "encoding": {
            "x": {"field": "t", "type": "quantitative", "scale": {"domain": [61217, 61251], "nice": false, "zero": false},
                  "axis": {"orient": "top", "values": [61220,61225,61230,61235,61240,61245,61250], "tickSize": 14, "labels": false, "title": null}},
            "y": {"field": "r", "type": "quantitative", "scale": {"domain": [-2.5, 2.5], "nice": false, "zero": false},
                  "axis": {"orient": "left", "values": [0], "tickSize": 130, "tickOpacity": 0, "labels": false, "title": null}}
          }
        },
        {
          "data": {"values": [{}]},
          "mark": {"type": "text", "text": "Max Smoothing Residual: 1.986_Vdk1.D5\u00a0 Sigma= 0.622ns14/53_08/04/26Mn_____37.604", "align": "left", "baseline": "middle", "fontSize": 25, "fontWeight": "bold", "color": "black"},
          "encoding": {
            "x": {"datum": 61218.03, "type": "quantitative", "scale": {"domain": [61217, 61251], "nice": false, "zero": false},
                  "axis": {"orient": "top", "values": [61217,61218,61219,61220,61221,61222,61223,61224,61225,61226,61227,61228,61229,61230,61231,61232,61233,61234,61235,61236,61237,61238,61239,61240,61241,61242,61243,61244,61245,61246,61247,61248,61249,61250,61251], "tickSize": 7, "labels": false, "title": null}},
            "y": {"datum": -2.156, "type": "quantitative", "scale": {"domain": [-2.5, 2.5], "nice": false, "zero": false}, "axis": null}
          }
        }
      ]
    },
    {
      "hconcat": [
        {
          "width": 547,
          "height": 450,
          "resolve": {"axis": {"x": "independent", "y": "independent"}},
          "layer": [
            {
              "data": {"name": "adev"},
              "mark": {"type": "point", "shape": "circle", "filled": true, "size": 130, "color": "black", "opacity": 1},
              "encoding": {
                "x": {"field": "x", "type": "quantitative", "scale": {"domain": [1.948, 6], "nice": false, "zero": false},
                      "axis": {"orient": "bottom", "values": [2,3,4,5,6], "format": "d", "tickSize": 14, "labelPadding": 10, "title": "Averaging time, log(τ) (s)", "titlePadding": 1}},
                "y": {"field": "y", "type": "quantitative", "scale": {"domain": [-14.5, -11.5], "nice": false, "zero": false},
                      "axis": {"orient": "left", "values": [-14,-13,-12], "format": "d", "tickSize": 14, "labelPadding": 4, "title": "Modified Allan Deviation (10⁻¹⁵)", "titlePadding": 5}}
              }
            },
            {
              "data": {"name": "adev"},
              "mark": {"type": "text", "color": "#ff0000", "fontSize": 19, "fontWeight": "bold", "dy": -22, "baseline": "middle", "align": "center"},
              "encoding": {
                "x": {"field": "x", "type": "quantitative", "scale": {"domain": [1.948, 6], "nice": false, "zero": false},
                      "axis": {"orient": "bottom", "values": [2.5,3.5,4.5,5.5], "tickSize": 7, "labels": false, "title": null}},
                "y": {"field": "y", "type": "quantitative", "scale": {"domain": [-14.5, -11.5], "nice": false, "zero": false},
                      "axis": {"orient": "right", "values": [-14,-13,-12], "tickSize": 14, "labels": false, "title": null}},
                "text": {"field": "v", "type": "quantitative", "format": ".1f"}
              }
            },
            {
              "data": {"name": "spans"},
              "mark": {"type": "point", "shape": "circle", "filled": true, "size": 45, "color": "black", "opacity": 1, "clip": true},
              "encoding": {
                "x": {"field": "x", "type": "quantitative", "scale": {"domain": [1.948, 6], "nice": false, "zero": false},
                      "axis": {"orient": "top", "values": [2,3,4,5,6], "tickSize": 14, "labels": false, "title": null}},
                "y": {"datum": -14.5, "type": "quantitative", "scale": {"domain": [-14.5, -11.5], "nice": false, "zero": false},
                      "axis": {"orient": "right", "values": [-13.5,-12.5], "tickSize": 7, "labels": false, "title": null}}
              }
            },
            {
              "data": {"name": "spans"},
              "mark": {"type": "text", "color": "#ff0000", "fontSize": 19, "fontWeight": "bold", "dy": -22, "baseline": "middle", "align": "center"},
              "encoding": {
                "x": {"field": "x", "type": "quantitative", "scale": {"domain": [1.948, 6], "nice": false, "zero": false},
                      "axis": {"orient": "top", "values": [2.5,3.5,4.5,5.5], "tickSize": 7, "labels": false, "title": null}},
                "y": {"datum": -14.5, "type": "quantitative", "scale": {"domain": [-14.5, -11.5], "nice": false, "zero": false},
                      "axis": {"orient": "left", "values": [-14], "tickSize": 130, "tickOpacity": 0, "labels": false, "title": null}},
                "text": {"field": "lab"}
              }
            },
            {
              "data": {"values": [{}]},
              "mark": {"type": "text", "text": "τ = 971s", "align": "left", "baseline": "middle", "fontSize": 17, "fontWeight": "bold", "color": "black"},
              "encoding": {
                "x": {"datum": 2.25, "type": "quantitative", "scale": {"domain": [1.948, 6], "nice": false, "zero": false}, "axis": null},
                "y": {"datum": -11.747, "type": "quantitative", "scale": {"domain": [-14.5, -11.5], "nice": false, "zero": false}, "axis": null}
              }
            }
          ]
        },
        {
          "width": 540,
          "height": 450,
          "resolve": {"axis": {"x": "independent", "y": "independent"}},
          "layer": [
            {
              "data": {"name": "tdev"},
              "mark": {"type": "point", "shape": "circle", "filled": true, "size": 130, "color": "black", "opacity": 1},
              "encoding": {
                "x": {"field": "x", "type": "quantitative", "scale": {"domain": [1.76, 6], "nice": false, "zero": false},
                      "axis": {"orient": "bottom", "values": [2,3,4,5,6], "format": "d", "tickSize": 14, "labelPadding": 10, "title": "Averaging time, log(τ) (s)", "titlePadding": 1}},
                "y": {"field": "y", "type": "quantitative", "scale": {"domain": [-10, -7.5], "nice": false, "zero": false},
                      "axis": {"orient": "left", "values": [-10,-9,-8], "format": "d", "tickSize": 14, "labelPadding": 12, "title": "Time deviation (10⁻¹⁰ s)", "titlePadding": 5}}
              }
            },
            {
              "data": {"name": "tdev"},
              "mark": {"type": "text", "color": "#ff0000", "fontSize": 19, "fontWeight": "bold", "dy": -23, "baseline": "middle", "align": "center"},
              "encoding": {
                "x": {"field": "x", "type": "quantitative", "scale": {"domain": [1.76, 6], "nice": false, "zero": false},
                      "axis": {"orient": "bottom", "values": [2.5,3.5,4.5,5.5], "tickSize": 7, "labels": false, "title": null}},
                "y": {"field": "y", "type": "quantitative", "scale": {"domain": [-10, -7.5], "nice": false, "zero": false},
                      "axis": {"orient": "right", "values": [-10,-9,-8], "tickSize": 14, "labels": false, "title": null}},
                "text": {"field": "v", "type": "quantitative", "format": ".1f"}
              }
            },
            {
              "data": {"name": "spans"},
              "mark": {"type": "point", "shape": "circle", "filled": true, "size": 127, "color": "black", "opacity": 1, "clip": true},
              "encoding": {
                "x": {"field": "x", "type": "quantitative", "scale": {"domain": [1.76, 6], "nice": false, "zero": false},
                      "axis": {"orient": "top", "values": [2,3,4,5,6], "tickSize": 14, "labels": false, "title": null}},
                "y": {"datum": -10, "type": "quantitative", "scale": {"domain": [-10, -7.5], "nice": false, "zero": false},
                      "axis": {"orient": "right", "values": [-9.5,-8.5], "tickSize": 7, "labels": false, "title": null}}
              }
            },
            {
              "data": {"name": "spans"},
              "mark": {"type": "text", "color": "#ff0000", "fontSize": 19, "fontWeight": "bold", "dy": -25, "baseline": "middle", "align": "center"},
              "encoding": {
                "x": {"field": "x", "type": "quantitative", "scale": {"domain": [1.76, 6], "nice": false, "zero": false},
                      "axis": {"orient": "top", "values": [2.5,3.5,4.5,5.5], "tickSize": 7, "labels": false, "title": null}},
                "y": {"datum": -10, "type": "quantitative", "scale": {"domain": [-10, -7.5], "nice": false, "zero": false}, "axis": null},
                "text": {"field": "lab"}
              }
            }
          ]
        }
      ],
      "spacing": 144,
      "bounds": "flush"
    }
  ]
}
